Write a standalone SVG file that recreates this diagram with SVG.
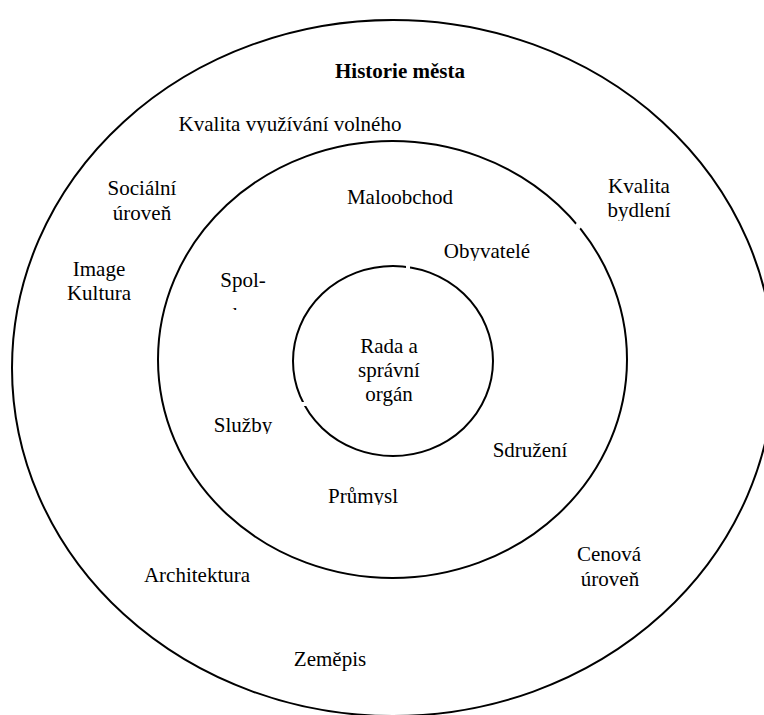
<svg xmlns="http://www.w3.org/2000/svg" width="764" height="715" viewBox="0 0 764 715">
<style>
.ring{fill:none;stroke:#000;stroke-width:2}
.t{font-family:"Liberation Serif","Times New Roman",serif;font-size:21px;fill:#000;text-anchor:middle}
.b{font-weight:bold}
</style>
<defs>
<mask id="gaps" maskUnits="userSpaceOnUse" x="0" y="0" width="764" height="715">
<rect x="0" y="0" width="764" height="715" fill="#fff"/>
<rect x="406" y="262" width="4" height="8" fill="#000"/>
<rect x="299" y="402" width="8" height="4" fill="#000"/>
<rect x="576" y="222" width="6" height="6" fill="#000" transform="rotate(40 579 225)"/>
</mask>
<clipPath id="c1" clipPathUnits="userSpaceOnUse"><rect x="0" y="0" width="764" height="133"/></clipPath>
<clipPath id="c2" clipPathUnits="userSpaceOnUse"><rect x="0" y="0" width="764" height="261"/></clipPath>
<clipPath id="c3" clipPathUnits="userSpaceOnUse"><rect x="0" y="0" width="764" height="221"/></clipPath>
<clipPath id="c4" clipPathUnits="userSpaceOnUse"><rect x="0" y="0" width="764" height="310"/></clipPath>
<clipPath id="c5" clipPathUnits="userSpaceOnUse"><rect x="0" y="0" width="764" height="434"/></clipPath>
<clipPath id="c6" clipPathUnits="userSpaceOnUse"><rect x="0" y="0" width="764" height="505"/></clipPath>
</defs>
<g id="rings" mask="url(#gaps)">
<ellipse id="outer-ring" class="ring" cx="393" cy="368" rx="381" ry="348"/>
<ellipse id="middle-ring" class="ring" cx="392.5" cy="359.5" rx="234.5" ry="218.5"/>
<ellipse id="inner-ring" class="ring" cx="393" cy="361" rx="100" ry="95"/>
</g>
<g id="historie"><text class="t b" x="400" y="78">Historie města</text></g>
<g id="kvalita-volneho" clip-path="url(#c1)"><text class="t" x="290" y="131">Kvalita využívání volného</text></g>
<g id="socialni"><text class="t" x="142" y="195">Sociální<tspan x="142" dy="25">úroveň</tspan></text></g>
<g id="image-kultura"><text class="t" x="99" y="276">Image<tspan x="99" dy="24">Kultura</tspan></text></g>
<g id="maloobchod"><text class="t" x="400" y="204">Maloobchod</text></g>
<g id="obyvatele" clip-path="url(#c2)"><text class="t" x="487" y="258">Obyvatelé</text></g>
<g id="kvalita-bydleni" clip-path="url(#c3)"><text class="t" x="639" y="193">Kvalita<tspan x="639" dy="24">bydlení</tspan></text></g>
<g id="spolky" clip-path="url(#c4)"><text class="t" x="243" y="287">Spol-<tspan x="243" dy="35">ky</tspan></text></g>
<g id="rada"><text class="t" x="389" y="353">Rada a<tspan x="389" dy="24">správní</tspan><tspan x="389" dy="24">orgán</tspan></text></g>
<g id="sluzby" clip-path="url(#c5)"><text class="t" x="243" y="432">Služby</text></g>
<g id="sdruzeni"><text class="t" x="530" y="457">Sdružení</text></g>
<g id="prumysl" clip-path="url(#c6)"><text class="t" x="363" y="503">Průmysl</text></g>
<g id="architektura"><text class="t" x="197" y="582">Architektura</text></g>
<g id="cenova"><text class="t" x="609" y="561">Cenová<tspan x="610" dy="25">úroveň</tspan></text></g>
<g id="zemepis"><text class="t" x="330" y="666">Zeměpis</text></g>
</svg>
